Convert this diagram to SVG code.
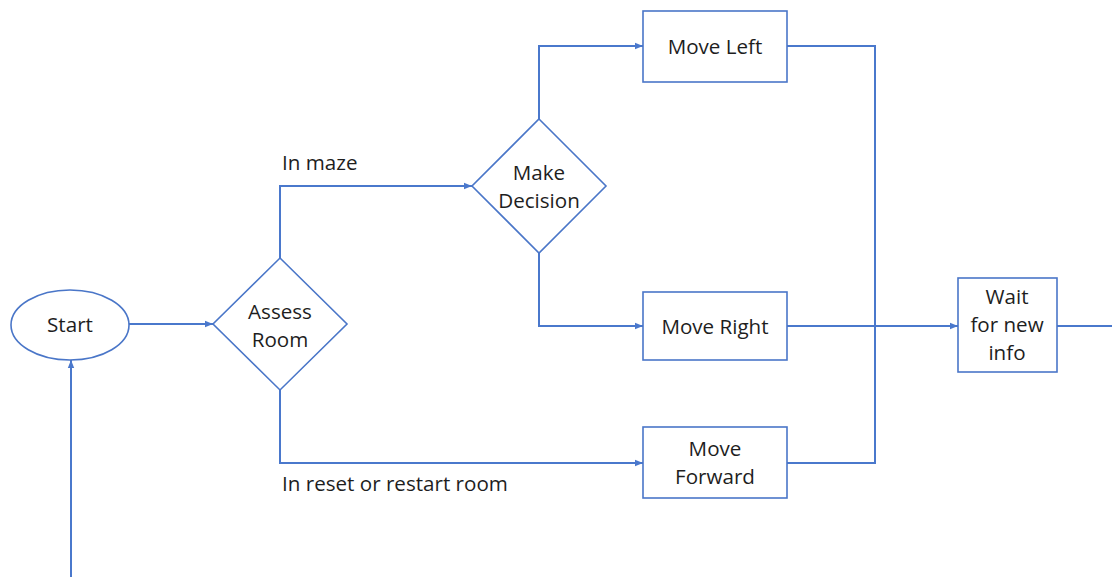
<svg xmlns="http://www.w3.org/2000/svg" width="1112" height="577" viewBox="0 0 1112 577">
  <style>
    .shape { fill: #ffffff; stroke: #4a76c8; stroke-width: 1.6; }
    .wire { fill: none; stroke: #4a78cc; stroke-width: 2; }
    .label { font-family: "Open Sans", "Liberation Sans", sans-serif; font-size: 20.6px; fill: #1e1e1e; }
    .mid { text-anchor: middle; }
  </style>
  <defs>
    <marker id="head" markerWidth="8" markerHeight="8" refX="8" refY="4" orient="auto" markerUnits="userSpaceOnUse">
      <path d="M0,0.8 L8,4 L0,7.2 Z" fill="#4a78cc"/>
    </marker>
  </defs>
  <rect width="1112" height="577" fill="#ffffff"/>

  <!-- connectors -->
  <g id="connectors">
    <path class="wire" d="M129,324 H213" marker-end="url(#head)"/>
    <path class="wire" d="M280,258 V186 H472" marker-end="url(#head)"/>
    <path class="wire" d="M280,390 V463 H643" marker-end="url(#head)"/>
    <path class="wire" d="M539,119 V46 H643" marker-end="url(#head)"/>
    <path class="wire" d="M539,253 V326 H643" marker-end="url(#head)"/>
    <path class="wire" d="M787,46 H875 V463 H787"/>
    <path class="wire" d="M787,326 H958" marker-end="url(#head)"/>
    <path class="wire" d="M1057,326 H1112"/>
    <path class="wire" d="M71,577 V360" marker-end="url(#head)"/>
    <text class="label" x="282" y="170">In maze</text>
    <text class="label" x="282" y="491">In reset or restart room</text>
  </g>

  <g id="start">
    <ellipse class="shape" cx="70" cy="325" rx="59" ry="35"/>
    <text class="label mid" x="70" y="332">Start</text>
  </g>

  <g id="assess-room">
    <polygon class="shape" points="280,258 347,324 280,390 213,324"/>
    <text class="label mid" x="280" y="319">Assess</text>
    <text class="label mid" x="280" y="347">Room</text>
  </g>

  <g id="make-decision">
    <polygon class="shape" points="539,119 606,186 539,253 472,186"/>
    <text class="label mid" x="539" y="180">Make</text>
    <text class="label mid" x="539" y="208">Decision</text>
  </g>

  <g id="move-left">
    <rect class="shape" x="643" y="11" width="144" height="71"/>
    <text class="label mid" x="715" y="54">Move Left</text>
  </g>

  <g id="move-right">
    <rect class="shape" x="643" y="292" width="144" height="68"/>
    <text class="label mid" x="715" y="334">Move Right</text>
  </g>

  <g id="move-forward">
    <rect class="shape" x="643" y="427" width="144" height="71"/>
    <text class="label mid" x="715" y="456">Move</text>
    <text class="label mid" x="715" y="484">Forward</text>
  </g>

  <g id="wait">
    <rect class="shape" x="958" y="278" width="99" height="94"/>
    <text class="label mid" x="1007" y="304">Wait</text>
    <text class="label mid" x="1007" y="332">for new</text>
    <text class="label mid" x="1007" y="360">info</text>
  </g>
</svg>
